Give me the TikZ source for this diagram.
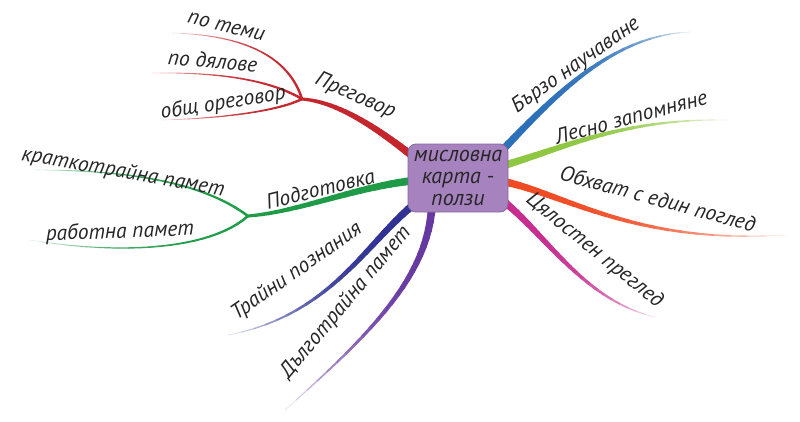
\documentclass[tikz,border=0pt]{standalone}
\usepackage{fontspec}
\newfontfamily\hand{PT Sans}
\definecolor{cRed}{HTML}{C4262E}
\definecolor{cGreen}{HTML}{1F9B48}
\definecolor{cNavy}{HTML}{2E3192}
\definecolor{cPurple}{HTML}{6437A0}
\definecolor{cBlue}{HTML}{2A6FB8}
\definecolor{cLime}{HTML}{8DC63F}
\definecolor{cOrange}{HTML}{EF4A23}
\definecolor{cMagenta}{HTML}{C62A8E}
\definecolor{boxFill}{HTML}{A682BF}
\definecolor{boxLine}{HTML}{86679C}
% #1 name, #2 start, #3 c1, #4 c2, #5 end, #6 colour, #7 start width, #8 end width, #9 final tint
\newcommand\branch[9]{%
  \path #2 .. controls #3 and #4 .. #5
    foreach \k [evaluate=\k as \t using \k/24] in {0,...,24} {coordinate[pos=\t] (#1-\k)};
  \foreach \k in {1,...,24}{%
    \pgfmathtruncatemacro\prev{\k-1}%
    \pgfmathsetmacro\w{#7+(#8-#7)*(\k-0.5)/24}%
    \pgfmathtruncatemacro\pc{100-(100-#9)*((\k/24)^4)}%
    \draw[line width=\w pt, draw=#6!\pc!white, line cap=round] (#1-\prev) -- (#1-\k);
  }%
}
\tikzset{
  lbl/.style={font=\hand\itshape\fontsize{21.5}{24}\selectfont, inner sep=0pt, anchor=base, text=black!85},
  hubbox/.style={draw=boxLine, fill=boxFill, line width=0.8pt, rounded corners=8pt,
    minimum width=100pt, minimum height=68pt, align=center, inner sep=2pt,
    font=\hand\itshape\fontsize{22}{22}\selectfont, text=black!85}
}
\begin{document}
\begin{tikzpicture}[x=1pt,y=-1pt]
\useasboundingbox (0,0) rectangle (800,421);
% anchor coordinates
\coordinate (s1) at (420,162);
\coordinate (s2) at (420,180);
\coordinate (s3) at (420,200);
\coordinate (s4) at (432,205);
\coordinate (s5) at (495,158);
\coordinate (s6) at (495,168);
\coordinate (s7) at (495,180);
\coordinate (s8) at (495,195);
\coordinate (j1) at (302,99);
\coordinate (j2) at (248,216);
\coordinate (e11) at (172,33);
\coordinate (e12) at (152,73);
\coordinate (e13) at (163,120);
\coordinate (e21) at (35,170);
\coordinate (e22) at (30,240);
\coordinate (e3) at (228,335);
\coordinate (e4) at (285,410);
\coordinate (e5) at (690,32);
\coordinate (e6) at (728,120);
\coordinate (e7) at (785,235);
\coordinate (e8) at (655,317);
% branches
\branch{pr}{(s1)}{(380,130)}{(340,102)}{(j1)}{cRed}{8}{3}{100}
\branch{pa}{(j1)}{(290,60)}{(250,35)}{(e11)}{cRed}{2.6}{0.6}{15}
\branch{pb}{(j1)}{(270,80)}{(220,72)}{(e12)}{cRed}{2.6}{0.6}{15}
\branch{pc}{(j1)}{(280,110)}{(230,118)}{(e13)}{cRed}{2.6}{0.6}{15}
\branch{po}{(s2)}{(360,185)}{(300,212)}{(j2)}{cGreen}{8}{3}{100}
\branch{oa}{(j2)}{(200,180)}{(120,170)}{(e21)}{cGreen}{2.6}{0.6}{15}
\branch{ob}{(j2)}{(210,250)}{(120,255)}{(e22)}{cGreen}{2.6}{0.6}{15}
\branch{tr}{(s3)}{(370,235)}{(335,315)}{(e3)}{cNavy}{8}{0.6}{15}
\branch{dl}{(s4)}{(428,275)}{(375,330)}{(e4)}{cPurple}{8}{0.6}{15}
\branch{bz}{(s5)}{(550,100)}{(610,35)}{(e5)}{cBlue}{8}{0.6}{15}
\branch{le}{(s6)}{(560,150)}{(620,118)}{(e6)}{cLime}{8}{0.6}{15}
\branch{oh}{(s7)}{(560,190)}{(630,245)}{(e7)}{cOrange}{8}{0.6}{15}
\branch{cy}{(s8)}{(540,225)}{(580,300)}{(e8)}{cMagenta}{8}{0.6}{15}
% hub
\node[hubbox] (hub) at (458,178) {мисловна\\карта -\\ползи};
% labels (anchored at the middle of their baseline)
\node[lbl, rotate=-24] (lpr) at (353,101) {Преговор};
\node[lbl, rotate=-14] (lpa) at (225,32) {по теми};
\node[lbl, rotate=-5] (lpb) at (212,68) {по дялове};
\node[lbl, rotate=9] (lpc) at (224,109) {общ ореговор};
\node[lbl, rotate=14] (lpo) at (322,196) {Подготовка};
\node[lbl, rotate=-10] (loa) at (122,178) {краткотрайна памет};
\node[lbl, rotate=2] (lob) at (120,238) {работна памет};
\node[lbl, rotate=35] (ltr) at (300,276) {Трайни познания};
\node[lbl, rotate=50] (ldl) at (350,306) {Дълготрайна памет};
\node[lbl, rotate=35] (lbz) at (579,70) {Бързо научаване};
\node[lbl, rotate=15] (lle) at (633,124) {Лесно запомняне};
\node[lbl, rotate=-15] (loh) at (656,206) {Обхват с един поглед};
\node[lbl, rotate=-39] (lcy) at (591,255) {Цялостен преглед};
\end{tikzpicture}
\end{document}
